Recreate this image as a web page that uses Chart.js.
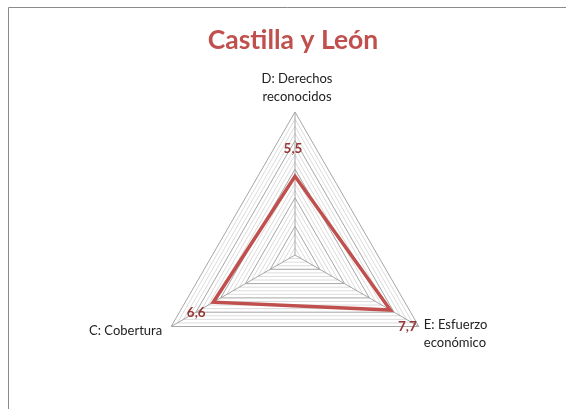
<!DOCTYPE html>
<html>
<head>
<meta charset="utf-8">
<script src="https://cdn.jsdelivr.net/npm/chart.js@4/dist/chart.umd.min.js"></script>
<style>
html,body{margin:0;padding:0;background:#fff;}
#wrap{width:566px;height:409px;position:relative;}
</style>
</head>
<body>
<div id="wrap"><canvas id="c" width="566" height="409"></canvas></div>
<script>
const titleText = 'Castilla y León';
const categories = [['D: Derechos', 'reconocidos'], ['E: Esfuerzo', 'económico'], ['C: Cobertura']];
const values = [5.5, 7.7, 6.6];
const valueLabels = ['5,5', '7,7', '6,6'];
const scaleMin = 0;
const scaleMax = 10;
const minorStep = 0.5;
const majorStep = 2;

const FONT = 'Lato, "Open Sans", sans-serif';

const framePlugin = {
  id: 'frame',
  beforeDraw(chart) {
    const ctx = chart.ctx;
    ctx.save();
    ctx.strokeStyle = '#8a8a8a';
    ctx.lineWidth = 1;
    ctx.beginPath();
    ctx.moveTo(8.5, 409);
    ctx.lineTo(8.5, 7.5);
    ctx.lineTo(566, 7.5);
    ctx.stroke();
    ctx.restore();
  },
  afterDraw(chart) {
    const ctx = chart.ctx;
    ctx.save();
    ctx.fillStyle = '#c0504d';
    ctx.font = 'bold 26.5px ' + FONT;
    ctx.textAlign = 'center';
    ctx.textBaseline = 'middle';
    ctx.fillText(titleText, 293, 40);
    ctx.restore();
  }
};

const labelsPlugin = {
  id: 'radarLabels',
  afterDatasetsDraw(chart) {
    const ctx = chart.ctx;
    const scale = chart.scales.r;
    const R = scale.drawingArea;
    ctx.save();
    ctx.fillStyle = '#222';
    ctx.font = '13px ' + FONT;
    ctx.textBaseline = 'middle';
    const lineH = 18;
    categories.forEach((lines, i) => {
      const p = scale.getPointPosition(i, R);
      let x, y, align;
      if (i === 0) { align = 'center'; x = p.x + 2; y = p.y - 15 - (lines.length - 1) * lineH; }
      else if (i === 1) { align = 'left'; x = p.x + 5; y = p.y - 2; }
      else { align = 'right'; x = p.x - 9; y = p.y + 4; }
      ctx.textAlign = align;
      lines.forEach((t, k) => ctx.fillText(t, x, y + k * lineH));
    });
    ctx.fillStyle = '#953735';
    ctx.font = 'bold 13.5px ' + FONT;
    ctx.textAlign = 'center';
    const shifts = [[-2, -28], [17, 17], [-17, 10]];
    values.forEach((v, i) => {
      const p = scale.getPointPositionForValue(i, v);
      ctx.fillText(valueLabels[i], p.x + shifts[i][0], p.y + shifts[i][1]);
    });
    ctx.restore();
  }
};

new Chart(document.getElementById('c'), {
  type: 'radar',
  data: {
    labels: categories,
    datasets: [{
      data: values,
      borderColor: '#c0504d',
      borderWidth: 3.5,
      fill: false,
      pointRadius: 0,
      pointHoverRadius: 0,
      tension: 0
    }]
  },
  options: {
    responsive: false,
    animation: false,
    layout: { padding: { left: 152, right: 128, top: 112, bottom: 11 } },
    plugins: { legend: { display: false }, tooltip: { enabled: false }, title: { display: false } },
    scales: {
      r: {
        min: scaleMin,
        max: scaleMax,
        ticks: { stepSize: minorStep, display: false },
        pointLabels: { display: false },
        angleLines: { color: '#a6a6a6', lineWidth: 1 },
        grid: {
          color: (c) => (Math.abs(c.tick.value % majorStep) < 1e-6 ? '#a6a6a6' : '#dcdcdc'),
          lineWidth: 1
        }
      }
    }
  },
  plugins: [framePlugin, labelsPlugin]
});
</script>
</body>
</html>
